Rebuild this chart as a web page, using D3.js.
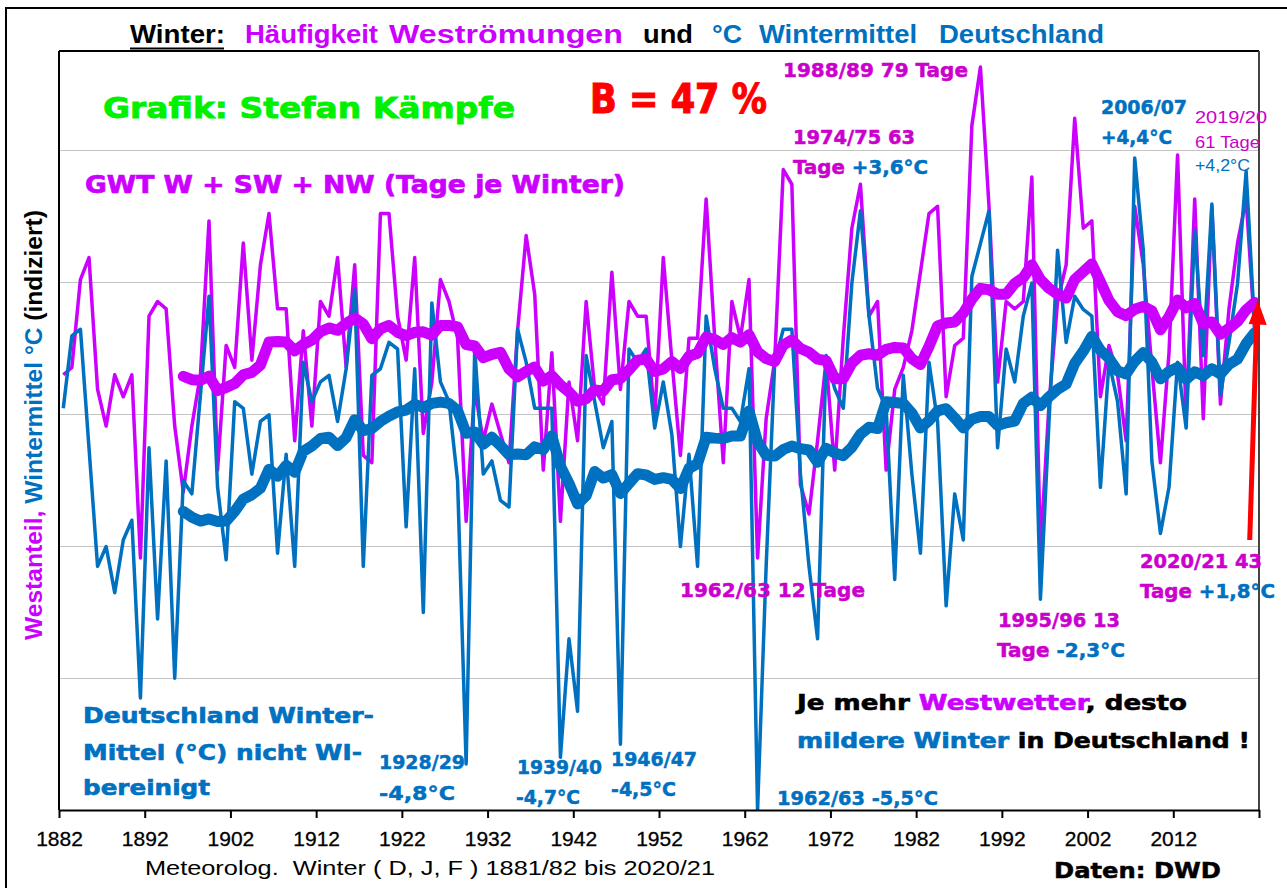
<!DOCTYPE html>
<meta charset="utf-8">
<style>
body { margin: 0; background: #fff; }
svg { display: block; }
</style>
<svg width="1287" height="888"></svg>
<script src="https://d3js.org/d3.v7.min.js"></script>
<script>
// winters 1881/82 .. 2020/21, keyed by the year of January
var winters = d3.range(1882, 2022);

// days with westerly weather types (W + SW + NW) per winter
var westDays = [
  37, 38, 50, 53, 35, 30, 37, 34, 37, 12,
  45, 47, 46, 30, 21, 30, 37, 58, 24, 41,
  38, 55, 39, 52, 59, 46, 46, 28, 43, 30,
  47, 45, 53, 38, 52, 26, 25, 59, 59, 45,
  39, 53, 29, 36, 50, 47, 42, 17, 35, 28,
  33, 29, 25, 43, 56, 48, 24, 40, 17, 36,
  28, 47, 35, 33, 51, 35, 47, 45, 45, 31,
  53, 39, 26, 42, 42, 61, 42, 25, 47, 42,
  50, 12, 31, 39, 65, 63, 22, 18, 28, 39,
  24, 42, 57, 63, 45, 47, 24, 35, 38, 43,
  51, 59, 60, 34, 41, 42, 71, 79, 60, 36,
  47, 46, 47, 64, 13, 33, 47, 52, 72, 57,
  58, 34, 41, 37, 28, 60, 52, 38, 25, 40,
  67, 31, 61, 31, 60, 33, 46, 55, 61, 43
];

// winter mean temperature Germany (deg C)
var winterTemp = [
  0.6, 1.7, 1.8, 0.0, -1.8, -1.5, -2.2, -1.4, -1.1, -3.8,
  0.0, -2.6, -0.2, -3.5, -0.5, -0.7, 0.8, 2.3, -0.6, -1.7,
  0.7, 0.6, -0.4, 0.4, 0.5, -1.6, -0.1, -1.8, 1.3, 0.7,
  1.0, 1.1, 0.4, 1.2, 2.4, -1.8, 1.1, 1.2, 1.6, 1.5,
  -1.2, 1.2, -2.5, 2.2, 1.0, 0.7, -0.5, -4.8, 1.5, -0.4,
  -0.2, -0.8, -0.9, 1.8, 1.3, 0.6, 0.6, 0.6, -4.7, -2.9,
  -4.0, 1.4, 0.7, 0.0, 0.4, -4.5, 1.5, 1.3, 1.5, 0.3,
  1.0, 0.2, -1.5, -0.1, -1.8, 2.0, 1.2, 0.6, 0.6, 0.4,
  1.2, -5.5, -1.8, 1.3, 1.8, 1.8, -0.4, -1.8, -2.9, 1.4,
  0.9, 0.6, 2.5, 3.6, 2.0, 0.9, 0.6, -2.0, 1.1, -0.4,
  -1.6, 1.3, 0.4, -2.4, -0.7, -1.4, 2.6, 3.1, 3.6, 0.0,
  1.5, 1.0, 2.0, 2.5, -2.3, 0.4, 3.0, 1.6, 2.3, 2.1,
  2.0, -0.6, 1.3, 0.7, -0.7, 4.4, 3.0, -0.2, -1.3, -0.6,
  1.3, 0.3, 3.3, 1.4, 3.7, 0.8, 1.6, 2.5, 4.2, 1.8
];

var xTickYears = d3.range(1882, 2023, 10);
var gridLevels = [20, 40, 60, 80, 100];
var maPeriod = 15;

var magenta = "#cc00ff", pink = "#cc00cc", blue = "#0070c0",
    green = "#00f000", red = "#ff0000";

var svg = d3.select("svg");

var x = d3.scaleLinear().domain([1882, 2022]).range([59, 1259]);
var yT = d3.scaleLinear().domain([-5.5, 4.4]).range([810, 158]);
var yD = d3.scaleLinear().domain([12, 79]).range([558, 67]);
var yG = d3.scaleLinear().domain([0, 115]).range([810, 51]);

// outer frame
svg.append("rect")
    .attr("x", 6).attr("y", 8).attr("width", 1320).attr("height", 920)
    .attr("fill", "none").attr("stroke", "#000").attr("stroke-width", 2);

// grid
svg.append("g")
    .attr("transform", "translate(59,0)")
    .call(d3.axisLeft(yG).tickValues(gridLevels).tickSize(-1200).tickFormat(""))
    .call(function(g) {
      g.select(".domain").remove();
      g.selectAll("line").attr("stroke", "#c4c4c4").attr("stroke-width", 1.2);
    });

// trailing moving average (Excel style)
function movingAverage(values, n) {
  var out = [];
  for (var i = n - 1; i < values.length; i++) {
    out.push({year: winters[i], v: d3.mean(values.slice(i - n + 1, i + 1))});
  }
  return out;
}

var lineDays = d3.line()
    .x(function(d) { return x(d.year + 0.5); })
    .y(function(d) { return yD(d.v); });
var lineTemp = d3.line()
    .x(function(d) { return x(d.year + 0.5); })
    .y(function(d) { return yT(d.v); });

var daysData = winters.map(function(w, i) { return {year: w, v: westDays[i]}; });
var tempData = winters.map(function(w, i) { return {year: w, v: winterTemp[i]}; });

svg.append("defs").append("clipPath").attr("id", "clip")
  .append("rect").attr("x", 59).attr("y", 51).attr("width", 1200).attr("height", 759);

var plot = svg.append("g").attr("clip-path", "url(#clip)");

plot.append("path").datum(daysData)
    .attr("d", lineDays)
    .attr("fill", "none").attr("stroke", magenta).attr("stroke-width", 3.5)
    .attr("stroke-linejoin", "round");
plot.append("path").datum(tempData)
    .attr("d", lineTemp)
    .attr("fill", "none").attr("stroke", blue).attr("stroke-width", 3.5)
    .attr("stroke-linejoin", "round");
plot.append("path").datum(movingAverage(westDays, maPeriod))
    .attr("d", lineDays)
    .attr("fill", "none").attr("stroke", magenta).attr("stroke-width", 11)
    .attr("stroke-linejoin", "round").attr("stroke-linecap", "round");
plot.append("path").datum(movingAverage(winterTemp, maPeriod))
    .attr("d", lineTemp)
    .attr("fill", "none").attr("stroke", blue).attr("stroke-width", 11)
    .attr("stroke-linejoin", "round").attr("stroke-linecap", "round");

// plot frame
svg.append("line").attr("x1", 59).attr("x2", 1259).attr("y1", 51).attr("y2", 51)
    .attr("stroke", "#000").attr("stroke-width", 2);
svg.append("line").attr("x1", 59).attr("x2", 59).attr("y1", 51).attr("y2", 810)
    .attr("stroke", "#000").attr("stroke-width", 2);
svg.append("line").attr("x1", 1259).attr("x2", 1259).attr("y1", 51).attr("y2", 810)
    .attr("stroke", "#444").attr("stroke-width", 2);

// x axis
svg.append("g")
    .attr("transform", "translate(0,810)")
    .call(d3.axisBottom(x).tickValues(xTickYears).tickSize(8).tickSizeOuter(0)
      .tickPadding(13).tickFormat(function(d) { return d < 2022 ? d : ""; }))
    .call(function(g) {
      g.select(".domain").attr("stroke", "#000").attr("stroke-width", 2);
      g.selectAll("line").attr("stroke", "#000").attr("stroke-width", 2);
      g.selectAll("text").attr("font-family", "Liberation Sans, Arial, sans-serif")
        .attr("font-size", 21).attr("fill", "#000")
        .attr("stroke", "#000").attr("stroke-width", 0.3);
    });

// red arrow at the end
var ax = x(2021.5);
svg.append("line").attr("x1", ax - 5).attr("y1", 540).attr("x2", ax + 2).attr("y2", 320)
    .attr("stroke", red).attr("stroke-width", 5);
svg.append("path")
    .attr("d", "M" + (ax + 3) + ",300 L" + (ax + 12) + ",325 L" + (ax - 6) + ",324 Z")
    .attr("fill", red);

// texts
function label(spec) {
  var t = svg.append("text")
      .attr("x", spec.x).attr("y", spec.y)
      .attr("font-family", spec.font || "DejaVu Sans")
      .attr("font-weight", spec.weight || "bold")
      .attr("font-size", spec.size || 20)
      .style("white-space", "pre");
  if (spec.len) t.attr("textLength", spec.len).attr("lengthAdjust", "spacingAndGlyphs");
  if (spec.rotate) t.attr("transform", spec.rotate).attr("text-anchor", "middle");
  spec.parts.forEach(function(p) {
    var ts = t.append("tspan").attr("fill", p[1]).text(p[0]);
    if (spec.heavy) ts.attr("stroke", p[1]).attr("stroke-width", spec.heavy);
  });
  return t;
}

var arial = "Liberation Sans, Arial, sans-serif";

// title
[["Winter:", "#000", 130, 95], ["Häufigkeit", magenta, 245, 133],
 ["Weströmungen", magenta, 389, 234], ["und", "#000", 643, 50],
 ["°C", blue, 712, 30], ["Wintermittel", blue, 759, 158],
 ["Deutschland", blue, 939, 165]].forEach(function(w) {
  label({x: w[2], y: 43, size: 26, font: arial, len: w[3], parts: [[w[0], w[1]]]});
});
svg.append("line").attr("x1", 130).attr("x2", 224).attr("y1", 48.5).attr("y2", 48.5)
    .attr("stroke", "#000").attr("stroke-width", 2);

label({rotate: "translate(42,425) rotate(-90)", x: 0, y: 0, size: 24, font: arial, len: 430,
  parts: [["Westanteil, ", magenta], ["Wintermittel °C ", blue], ["(indiziert)", "#000"]]});

label({x: 145, y: 875, size: 21, font: arial, weight: "normal", len: 570,
  parts: [["Meteorolog.  Winter ( D, J, F ) 1881/82 bis 2020/21", "#000"]]});
label({x: 1054, y: 878, size: 22, len: 167, heavy: 0.5, parts: [["Daten: DWD", "#000"]]});

label({x: 103, y: 118, size: 28, len: 412, heavy: 0.8, parts: [["Grafik: Stefan Kämpfe", green]]});
label({x: 590, y: 113, size: 40, len: 177, heavy: 1.2, parts: [["B = 47 %", red]]});
label({x: 85, y: 193, size: 24, len: 540, heavy: 0.7, parts: [["GWT W + SW + NW (Tage je Winter)", magenta]]});

label({x: 783, y: 77, len: 185, heavy: 0.5, parts: [["1988/89 79 Tage", pink]]});
label({x: 793, y: 144, len: 122, heavy: 0.5, parts: [["1974/75 63", pink]]});
label({x: 793, y: 174, len: 135, heavy: 0.5, parts: [["Tage ", pink], ["+3,6°C", blue]]});
label({x: 1101, y: 114, len: 86, heavy: 0.5, parts: [["2006/07", blue]]});
label({x: 1101, y: 144, len: 71, heavy: 0.5, parts: [["+4,4°C", blue]]});
label({x: 1195, y: 123, size: 17, font: arial, weight: "normal", len: 72, parts: [["2019/20", pink]]});
label({x: 1195, y: 148, size: 17, font: arial, weight: "normal", len: 65, parts: [["61 Tage", pink]]});
label({x: 1195, y: 171, size: 17, font: arial, weight: "normal", len: 55, parts: [["+4,2°C", blue]]});

label({x: 680, y: 597, len: 185, heavy: 0.5, parts: [["1962/63 12 Tage", pink]]});
label({x: 998, y: 627, len: 122, heavy: 0.5, parts: [["1995/96 13", pink]]});
label({x: 997, y: 657, len: 128, heavy: 0.5, parts: [["Tage ", pink], ["-2,3°C", blue]]});
label({x: 1140, y: 568, len: 122, heavy: 0.5, parts: [["2020/21 43", pink]]});
label({x: 1140, y: 598, len: 135, heavy: 0.5, parts: [["Tage ", pink], ["+1,8°C", blue]]});

label({x: 83, y: 723, size: 21, len: 291, heavy: 0.6, parts: [["Deutschland Winter-", blue]]});
label({x: 83, y: 760, size: 21, len: 279, heavy: 0.6, parts: [["Mittel (°C) nicht WI-", blue]]});
label({x: 83, y: 795, size: 21, len: 127, heavy: 0.6, parts: [["bereinigt", blue]]});

label({x: 379, y: 769, len: 86, heavy: 0.5, parts: [["1928/29", blue]]});
label({x: 379, y: 800, len: 76, heavy: 0.5, parts: [["-4,8°C", blue]]});
label({x: 517, y: 774, len: 85, heavy: 0.5, parts: [["1939/40", blue]]});
label({x: 516, y: 804, len: 64, heavy: 0.5, parts: [["-4,7°C", blue]]});
label({x: 611, y: 766, len: 86, heavy: 0.5, parts: [["1946/47", blue]]});
label({x: 611, y: 796, len: 65, heavy: 0.5, parts: [["-4,5°C", blue]]});
label({x: 777, y: 805, len: 161, heavy: 0.5, parts: [["1962/63 -5,5°C", blue]]});

label({x: 797, y: 710, size: 21, len: 390, heavy: 0.6,
  parts: [["Je mehr ", "#000"], ["Westwetter", magenta], [", desto", "#000"]]});
label({x: 797, y: 748, size: 21, len: 453, heavy: 0.6,
  parts: [["mildere Winter", blue], [" in Deutschland !", "#000"]]});
</script>
